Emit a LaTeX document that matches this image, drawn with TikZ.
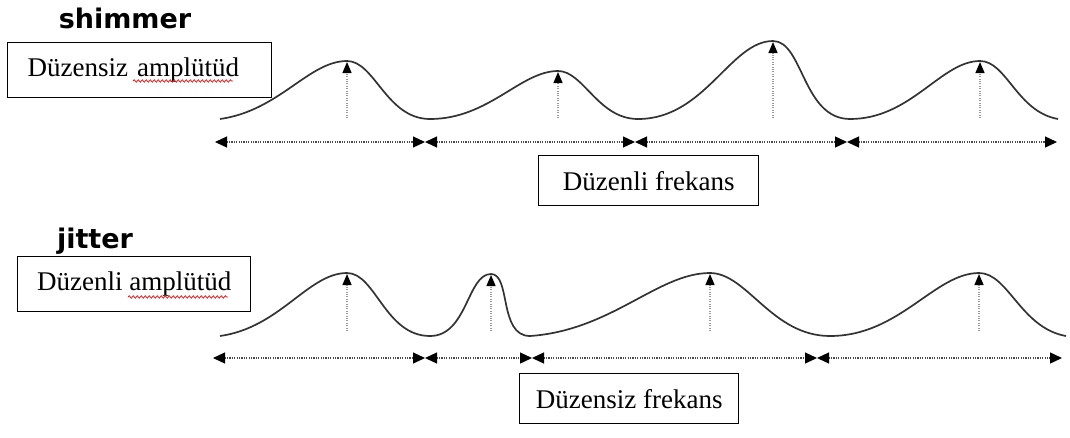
\documentclass[tikz,border=0pt]{standalone}
\usepackage{fontspec}
\setmainfont{Liberation Serif}
\newfontfamily\headfont{DejaVu Sans}
\usetikzlibrary{positioning,arrows.meta,decorations.pathmorphing}
\definecolor{sigcol}{HTML}{333333}
\definecolor{guidecol}{HTML}{4A4A4A}
\definecolor{spell}{HTML}{E02020}

\begin{document}
\begin{tikzpicture}[x=1pt, y=-1pt,
      lbl/.style={draw, line width=1.4pt, anchor=north west, inner sep=0pt,
      font=\fontsize{27}{30}\selectfont},
      head/.style={anchor=base, font=\headfont\fontsize{27}{30}\selectfont\bfseries},
      sig/.style={draw=sigcol, line width=1.7pt},
      up/.style={out=0, in=180, out looseness=1.1, in looseness=0.7},
      down/.style={out=0, in=180, out looseness=0.7, in looseness=1.1},
      peak/.style={draw=guidecol!55, line width=1.3pt, dash pattern=on 1pt off 1.4pt,
      -{Triangle[length=11pt, width=9pt, color=black]}},
      span/.style={draw=guidecol, line width=1.3pt, dash pattern=on 1.2pt off 1.2pt,
      {Triangle[length=12pt, width=11pt, color=black]}-{Triangle[length=12pt, width=11pt, color=black]}},
      spellchk/.style={draw=spell, line width=0.8pt, decorate,
      decoration={snake, amplitude=1.2pt, segment length=4pt}},
    ]
    \useasboundingbox (0,0) rectangle (1070,437);

    % shimmer
    \node[head] (shim) at (125,28) {shimmer};
    \node[lbl, minimum height=55pt, inner xsep=20pt, text width=224pt, align=left] (amp1) at (7,42)
      {Düzensiz amplütüd};
    \draw[spellchk] (133,81) -- (233,81);

    \coordinate (s0) at (220,119);
    \coordinate (p1) at (347,61);
    \coordinate (t1) at (430,119);
    \coordinate (p2) at (558,71);
    \coordinate (t2) at (638,119);
    \coordinate (p3) at (773,41);
    \coordinate (t3) at (850,119);
    \coordinate (p4) at (980,61);
    \coordinate (s4) at (1058,119);
    \draw[sig] (s0) to[up, out=8] (p1) to[down] (t1) to[up] (p2) to[down] (t2)
      to[up] (p3) to[down] (t3) to[up] (p4) to[down, in=170] (s4);

    \coordinate (f1) at (347,118);
    \coordinate (f2) at (558,118);
    \coordinate (f3) at (773,118);
    \coordinate (f4) at (980,118);
    \draw[peak] (f1) -- ([yshift=-1pt]p1);
    \draw[peak] (f2) -- ([yshift=-1pt]p2);
    \draw[peak] (f3) -- ([yshift=-1pt]p3);
    \draw[peak] (f4) -- ([yshift=-1pt]p4);

    \coordinate (a0) at (215,142);
    \coordinate (a1) at (425,142);
    \coordinate (a2) at (635,142);
    \coordinate (a3) at (847,142);
    \coordinate (a4) at (1057,142);
    \draw[span] (a0) -- (a1);
    \draw[span] (a1) -- (a2);
    \draw[span] (a2) -- (a3);
    \draw[span] (a3) -- (a4);

    \node[lbl, minimum height=50pt, minimum width=220pt] (frq1) at (538,155)
      {Düzenli frekans};

    % jitter
    \node[head] (jit) at (95,248) {jitter};
    \node[lbl, minimum height=55pt, minimum width=233pt] (amp2) at (17,256)
      {Düzenli amplütüd};
    \draw[spellchk] (128,297) -- (228,297);

    \coordinate (u0) at (220,336);
    \coordinate (q1) at (347,273);
    \coordinate (v1) at (430,336);
    \coordinate (q2) at (491,274);
    \coordinate (v2) at (530,336);
    \coordinate (q3) at (710,273);
    \coordinate (v3) at (830,336);
    \coordinate (q4) at (979,273);
    \coordinate (u4) at (1066,336);
    \draw[sig] (u0) to[up, out=8] (q1) to[down] (v1) to[up] (q2) to[down] (v2)
      to[up, out=4] (q3) to[down] (v3) to[up] (q4) to[down, in=170] (u4);

    \coordinate (g1) at (347,331);
    \coordinate (g2) at (491,331);
    \coordinate (g3) at (710,331);
    \coordinate (g4) at (979,331);
    \draw[peak] (g1) -- ([yshift=-1pt]q1);
    \draw[peak] (g2) -- ([yshift=-1pt]q2);
    \draw[peak] (g3) -- ([yshift=-1pt]q3);
    \draw[peak] (g4) -- ([yshift=-1pt]q4);

    \coordinate (b0) at (213,358);
    \coordinate (b1) at (425,358);
    \coordinate (b2) at (532,358);
    \coordinate (b3) at (817,358);
    \coordinate (b4) at (1062,358);
    \draw[span] (b0) -- (b1);
    \draw[span] (b1) -- (b2);
    \draw[span] (b2) -- (b3);
    \draw[span] (b3) -- (b4);

    \node[lbl, minimum height=50pt, minimum width=219pt] (frq2) at (519,373)
      {Düzensiz frekans};
  \end{tikzpicture}
\end{document}
